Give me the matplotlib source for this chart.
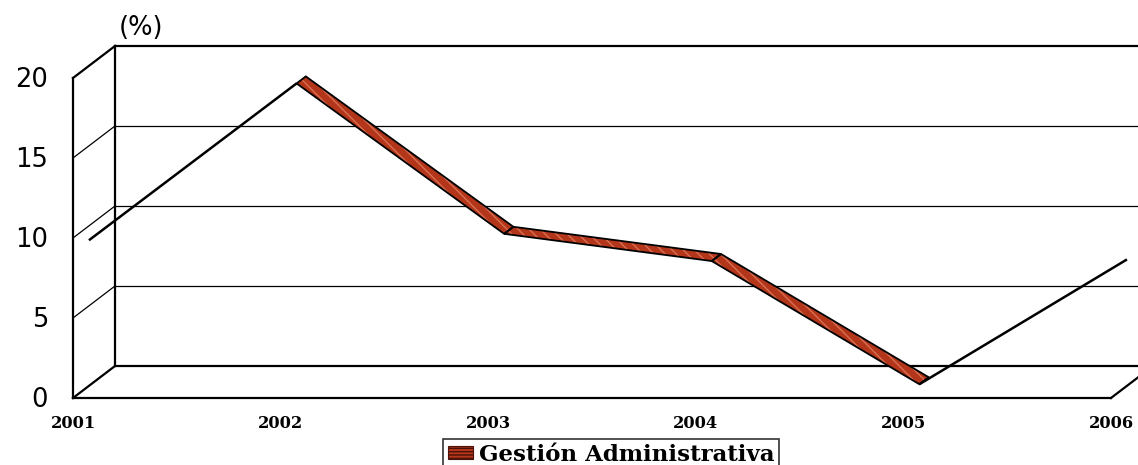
import matplotlib
matplotlib.use("Agg")
import matplotlib.pyplot as plt
from matplotlib.transforms import ScaledTranslation, IdentityTransform
from matplotlib.patches import Polygon, Patch

# Data
years = ["2001", "2002", "2003", "2004", "2005", "2006"]
values = [9.1, 18.9, 9.5, 7.8, 0.1, 7.9]
y_ticks = [0, 5, 10, 15, 20]
series_name = "Gestión Administrativa"
unit_label = "(%)"

W, H, DPI = 1138, 465, 100
fig = plt.figure(figsize=(W / DPI, H / DPI), dpi=DPI)
fig.patch.set_facecolor("white")

# front plane of the oblique 3-D box
ax = fig.add_axes([73 / W, (H - 398) / H, (1111 - 73) / W, 320 / H])
ax.set_xlim(0, len(years) - 1)
ax.set_ylim(0, 20)
ax.axis("off")

DEPTH_X, DEPTH_Y = 0.42, 0.32  # depth of the box in inches (right, up)


def at_depth(d):
    return ax.transData + ScaledTranslation(DEPTH_X * d, DEPTH_Y * d, fig.dpi_scale_trans)


def pt(x, v, d):
    return at_depth(d).transform((x, v))


ident = IdentityTransform()
xmax = len(years) - 1
thick, thin = 1.6, 0.9

# back wall gridlines
for v in y_ticks:
    lw = thick if v in (0, 20) else thin
    ax.plot([0, xmax], [v, v], transform=at_depth(1), color="black", lw=lw,
            clip_on=False, zorder=1)
ax.plot([0, 0], [0, 20], transform=at_depth(1), color="black", lw=thick,
        clip_on=False, zorder=1)

# left side wall
for v in y_ticks:
    lw = thick if v in (0, 20) else thin
    p0, p1 = pt(0, v, 0), pt(0, v, 1)
    ax.plot([p0[0], p1[0]], [p0[1], p1[1]], transform=ident, color="black",
            lw=lw, clip_on=False, zorder=1)
ax.plot([0, 0], [0, 20], color="black", lw=thick, clip_on=False, zorder=2)

# floor
ax.plot([0, xmax], [0, 0], color="black", lw=thick, clip_on=False, zorder=2)
p0, p1 = pt(xmax, 0, 0), pt(xmax, 0, 1)
ax.plot([p0[0], p1[0]], [p0[1], p1[1]], transform=ident, color="black",
        lw=thick, clip_on=False, zorder=2)

# ribbon line
d_front, d_back = 0.38, 0.60
ribbon_face = "#B3361A"
ribbon_stripe = "#D86E52"
for i in range(len(values) - 1):
    v0, v1 = values[i], values[i + 1]
    f0, f1 = pt(i, v0, d_front), pt(i + 1, v1, d_front)
    if v1 < v0:
        b1, b0 = pt(i + 1, v1, d_back), pt(i, v0, d_back)
        quad = [f0, f1, b1, b0]
        ax.add_patch(Polygon(quad, closed=True, transform=ident,
                             facecolor=ribbon_face, edgecolor=ribbon_stripe,
                             hatch="\\\\\\", lw=0, clip_on=False, zorder=3))
        ax.add_patch(Polygon(quad, closed=True, transform=ident,
                             facecolor="none", edgecolor="black", lw=1.3,
                             joinstyle="miter", clip_on=False, zorder=4))
    else:
        ax.plot([f0[0], f1[0]], [f0[1], f1[1]], transform=ident,
                color="black", lw=1.8, solid_capstyle="butt",
                clip_on=False, zorder=4)

# value axis labels
tick_off = ax.transData + ScaledTranslation(-0.25, -0.02, fig.dpi_scale_trans)
for v in y_ticks:
    ax.text(0, v, str(v), transform=tick_off, ha="right", va="center",
            fontsize=18.5, family="DejaVu Sans", color="black")

ax.text(0, 20, unit_label,
        transform=at_depth(1) + ScaledTranslation(0.26, 0.18, fig.dpi_scale_trans),
        ha="center", va="center", fontsize=18.5, family="DejaVu Sans")

# category labels
cat_off = ax.transData + ScaledTranslation(0, -0.25, fig.dpi_scale_trans)
for i, yr in enumerate(years):
    ax.text(i, 0, yr, transform=cat_off, ha="center", va="center",
            fontsize=11.7, fontweight="bold", family="DejaVu Serif")

# legend
handle = Patch(facecolor="#B5361A", edgecolor="#4A1208", hatch="-----", lw=0.8)
leg = fig.legend([handle], [series_name], loc="upper center",
                 bbox_to_anchor=(611 / W, 1 - 439 / H),
                 frameon=True, fancybox=False, shadow=False,
                 prop={"family": "DejaVu Serif", "weight": "bold", "size": 16.5},
                 handlelength=1.1, handleheight=0.55, handletextpad=0.25,
                 borderpad=0.2, borderaxespad=0)
leg.get_frame().set_edgecolor("black")
leg.get_frame().set_linewidth(1.2)

fig.savefig("out.png", dpi=DPI, facecolor="white")
